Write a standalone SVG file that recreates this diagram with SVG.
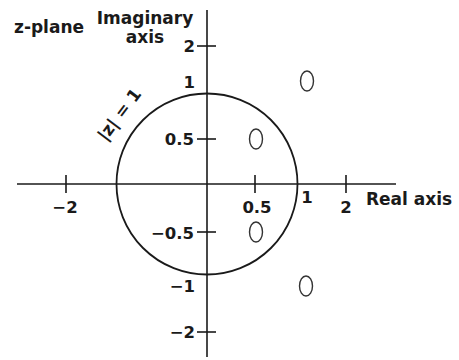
<svg xmlns="http://www.w3.org/2000/svg" width="459" height="360" viewBox="0 0 459 360">
<style>
.ax{stroke:#1a1a1a;stroke-width:1.6;fill:none}
.circ{stroke:#1a1a1a;stroke-width:1.8;fill:none}
.zero{stroke:#333;stroke-width:1.4;fill:none}
text{font-family:"DejaVu Sans",Verdana,sans-serif;font-weight:bold;fill:#1a1a1a;font-size:16.5px}
.lbl{font-size:17px}
</style>
<rect width="459" height="360" fill="#fff"/>
<g id="axes">
<line class="ax" x1="207" y1="10" x2="207" y2="357"/>
<line class="ax" x1="17" y1="184" x2="396" y2="184"/>
<line class="ax" x1="197" y1="46" x2="216" y2="46"/>
<line class="ax" x1="197" y1="139" x2="216" y2="139"/>
<line class="ax" x1="197" y1="232" x2="216" y2="232"/>
<line class="ax" x1="197" y1="332" x2="216" y2="332"/>
<line class="ax" x1="66" y1="175" x2="66" y2="193"/>
<line class="ax" x1="255" y1="175" x2="255" y2="193"/>
<line class="ax" x1="346" y1="175" x2="346" y2="193"/>
</g>
<g id="unit-circle">
<circle class="circ" cx="207" cy="184" r="90.5"/>
<text class="lbl" transform="translate(124,118) rotate(-53)" text-anchor="middle">|z| = 1</text>
</g>
<g id="zeros">
<ellipse class="zero" cx="307" cy="81" rx="6.5" ry="10"/>
<ellipse class="zero" cx="256" cy="139" rx="6.5" ry="10"/>
<ellipse class="zero" cx="256" cy="232" rx="6.5" ry="10"/>
<ellipse class="zero" cx="306" cy="286" rx="6.5" ry="10"/>
</g>
<g id="labels">
<text class="lbl" x="14" y="33">z-plane</text>
<text class="lbl" x="145" y="24" text-anchor="middle">Imaginary</text>
<text class="lbl" x="145" y="43" text-anchor="middle">axis</text>
<text class="lbl" x="366" y="205">Real axis</text>
<text x="195" y="52" text-anchor="end">2</text>
<text x="195" y="88" text-anchor="end">1</text>
<text x="194" y="145" text-anchor="end">0.5</text>
<text x="194" y="239" text-anchor="end">−0.5</text>
<text x="195" y="292" text-anchor="end">−1</text>
<text x="195" y="338" text-anchor="end">−2</text>
<text x="65" y="213" text-anchor="middle">−2</text>
<text x="257" y="213" text-anchor="middle">0.5</text>
<text x="307" y="203" text-anchor="middle">1</text>
<text x="346" y="213" text-anchor="middle">2</text>
</g>
</svg>
